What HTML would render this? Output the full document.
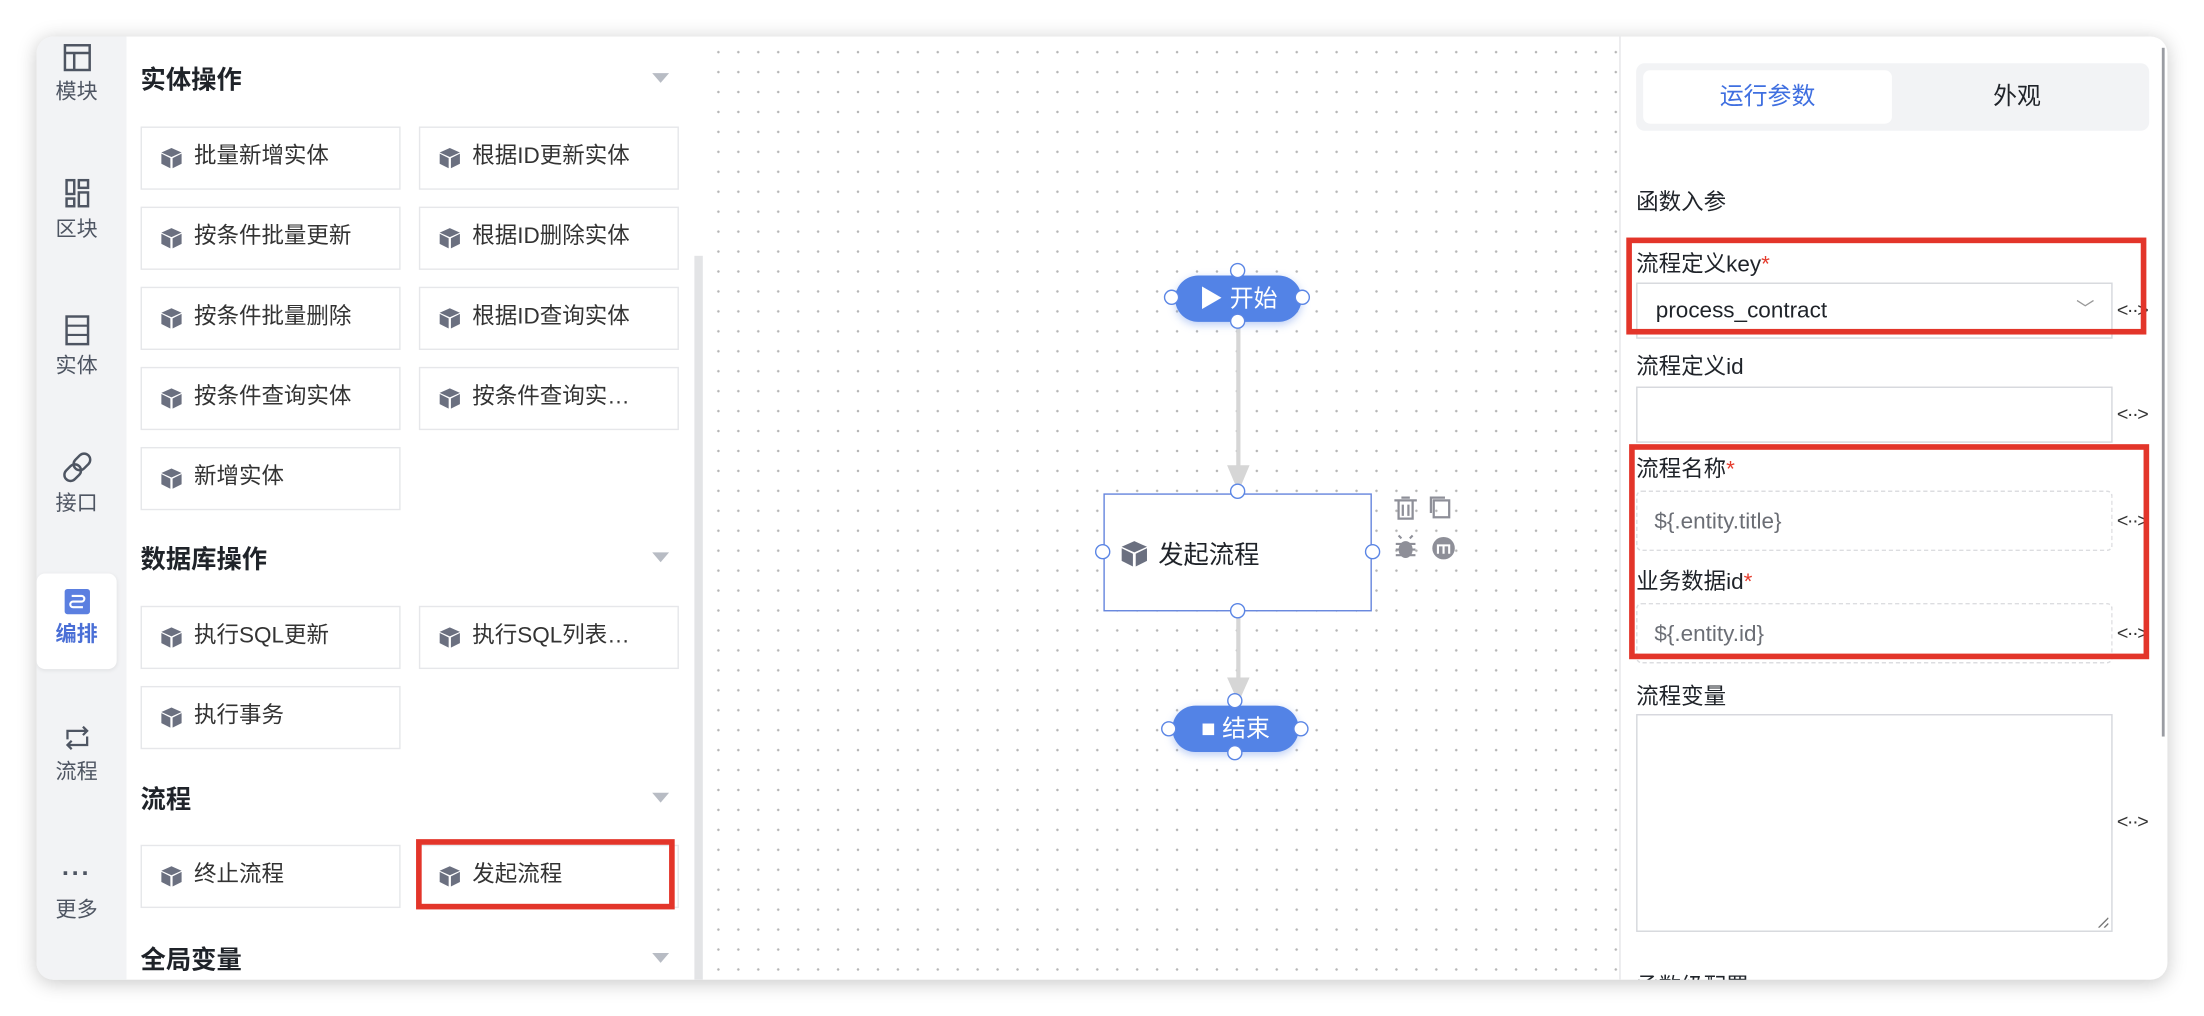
<!DOCTYPE html>
<html><head><meta charset="utf-8">
<style>
html,body{margin:0;padding:0;width:2204px;height:1016px;overflow:hidden;background:#fff}
#w{position:absolute;left:0;top:0;width:1568px;height:723px;transform:scale(1.40561);transform-origin:0 0;font-family:"Liberation Sans","Noto Sans CJK SC",sans-serif;color:#1f2329}
.a{position:absolute}
#card{left:26px;top:26px;width:1516px;height:671px;border-radius:12px;background:#fff;box-shadow:0 2px 14px rgba(0,0,0,.22);overflow:hidden}
.rail{left:0;top:0;width:64px;height:671px;background:#f2f3f5}
.ri{position:absolute;left:0;width:57px;text-align:center;font-size:15px;color:#4e5562}
.hd{position:absolute;left:74px;font-size:18px;font-weight:bold;color:#1f2329}
.tri{position:absolute;left:438px;width:0;height:0;border-left:6px solid transparent;border-right:6px solid transparent;border-top:7px solid #b8bcc4}
.b{position:absolute;width:185px;height:45px;border:1.5px solid #e6e7ea;box-sizing:border-box;font-size:16px;color:#333;line-height:42px;padding-left:37px;white-space:nowrap}
.b svg{position:absolute;left:13px;top:13px}
.lbl{position:absolute;left:1138px;font-size:16px;color:#1f2329}
.lbl i{color:#e53b2c;font-style:normal}
.inp{position:absolute;left:1138px;width:339px;box-sizing:border-box;border:1px solid #d5d7dc;background:#fff}
.ic{position:absolute;left:1480px;font-size:14px;color:#333;letter-spacing:-1px}
.red{position:absolute;border:4px solid #e3352a;box-sizing:border-box}
.port{position:absolute;width:11px;height:11px;border-radius:50%;border:1.5px solid #5b86e5;background:#fff;box-sizing:border-box}
</style></head><body><div id="w">
<div id="card" class="a">
  <div class="a rail"></div>
  <div class="ri" style="top:4px"><svg width="22" height="22" viewBox="0 0 20 20"><rect x="2" y="2" width="16" height="16" fill="none" stroke="#4e5562" stroke-width="1.6"/><line x1="2" y1="7" x2="18" y2="7" stroke="#4e5562" stroke-width="1.6"/><line x1="8" y1="7" x2="8" y2="18" stroke="#4e5562" stroke-width="1.6"/></svg><div style="margin-top:-2px">模块</div></div>
  <div class="ri" style="top:100px"><svg width="22" height="24" viewBox="0 0 20 22"><rect x="3" y="2" width="5" height="9" fill="none" stroke="#4e5562" stroke-width="1.6"/><rect x="11" y="2" width="6" height="5" fill="none" stroke="#4e5562" stroke-width="1.6"/><rect x="11" y="10" width="6" height="9" fill="none" stroke="#4e5562" stroke-width="1.6"/><rect x="3" y="14" width="5" height="5" fill="none" stroke="#4e5562" stroke-width="1.6"/></svg><div style="margin-top:-2px">区块</div></div>
  <div class="ri" style="top:197px"><svg width="22" height="24" viewBox="0 0 20 22"><rect x="3" y="2" width="14" height="18" fill="none" stroke="#4e5562" stroke-width="1.6"/><line x1="3" y1="8" x2="17" y2="8" stroke="#4e5562" stroke-width="1.4"/><line x1="3" y1="14" x2="17" y2="14" stroke="#4e5562" stroke-width="1.4"/></svg><div style="margin-top:-2px">实体</div></div>
  <div class="ri" style="top:295px"><svg width="22" height="24" viewBox="0 0 20 22"><rect x="9" y="1" width="8" height="12" rx="4" transform="rotate(45 13 7)" fill="none" stroke="#4e5562" stroke-width="1.6"/><rect x="3" y="8" width="8" height="12" rx="4" transform="rotate(45 7 14)" fill="none" stroke="#4e5562" stroke-width="1.6"/></svg><div style="margin-top:-2px">接口</div></div>
  <div class="a" style="left:0;top:382px;width:57px;height:68px;background:#fff;border-radius:6px;box-shadow:0 1px 3px rgba(0,0,0,.08)"></div>
  <div class="ri" style="top:392px;color:#4a6fd6;font-weight:bold"><svg width="20" height="20" viewBox="0 0 20 20"><rect x="1" y="1" width="18" height="18" rx="2" fill="#5b7fe0"/><path d="M6 6h7a2 2 0 010 4H7a2 2 0 000 4h7" fill="none" stroke="#fff" stroke-width="1.5"/></svg><div style="margin-top:-2px">编排</div></div>
  <div class="ri" style="top:488px"><svg width="22" height="22" viewBox="0 0 22 22"><path d="M4 12V6h14M15 3l3 3-3 3M18 10v6H4M7 19l-3-3 3-3" fill="none" stroke="#4e5562" stroke-width="1.6"/></svg><div style="margin-top:-2px">流程</div></div>
  <div class="ri" style="top:584px"><div style="font-size:18px;font-weight:bold;letter-spacing:1px;line-height:22px">···</div><div style="margin-top:4px">更多</div></div>

  <div class="a" style="left:468px;top:156px;width:6px;height:515px;background:#e3e4e6"></div>
  <div class="hd" style="top:17px">实体操作</div><div class="tri" style="top:26px"></div>
  <div class="b" style="left:74px;top:64px"><svg width="16" height="17" viewBox="0 0 20 20"><polygon points="10,1 19,5 10,9 1,5" fill="#6b7080"/><polygon points="1,6 9,10 9,19 1,15" fill="#6b7080"/><polygon points="19,6 11,10 11,19 19,15" fill="#6b7080"/></svg>批量新增实体</div>
  <div class="b" style="left:272px;top:64px"><svg width="16" height="17" viewBox="0 0 20 20"><polygon points="10,1 19,5 10,9 1,5" fill="#6b7080"/><polygon points="1,6 9,10 9,19 1,15" fill="#6b7080"/><polygon points="19,6 11,10 11,19 19,15" fill="#6b7080"/></svg>根据ID更新实体</div>
  <div class="b" style="left:74px;top:121px"><svg width="16" height="17" viewBox="0 0 20 20"><polygon points="10,1 19,5 10,9 1,5" fill="#6b7080"/><polygon points="1,6 9,10 9,19 1,15" fill="#6b7080"/><polygon points="19,6 11,10 11,19 19,15" fill="#6b7080"/></svg>按条件批量更新</div>
  <div class="b" style="left:272px;top:121px"><svg width="16" height="17" viewBox="0 0 20 20"><polygon points="10,1 19,5 10,9 1,5" fill="#6b7080"/><polygon points="1,6 9,10 9,19 1,15" fill="#6b7080"/><polygon points="19,6 11,10 11,19 19,15" fill="#6b7080"/></svg>根据ID删除实体</div>
  <div class="b" style="left:74px;top:178px"><svg width="16" height="17" viewBox="0 0 20 20"><polygon points="10,1 19,5 10,9 1,5" fill="#6b7080"/><polygon points="1,6 9,10 9,19 1,15" fill="#6b7080"/><polygon points="19,6 11,10 11,19 19,15" fill="#6b7080"/></svg>按条件批量删除</div>
  <div class="b" style="left:272px;top:178px"><svg width="16" height="17" viewBox="0 0 20 20"><polygon points="10,1 19,5 10,9 1,5" fill="#6b7080"/><polygon points="1,6 9,10 9,19 1,15" fill="#6b7080"/><polygon points="19,6 11,10 11,19 19,15" fill="#6b7080"/></svg>根据ID查询实体</div>
  <div class="b" style="left:74px;top:235px"><svg width="16" height="17" viewBox="0 0 20 20"><polygon points="10,1 19,5 10,9 1,5" fill="#6b7080"/><polygon points="1,6 9,10 9,19 1,15" fill="#6b7080"/><polygon points="19,6 11,10 11,19 19,15" fill="#6b7080"/></svg>按条件查询实体</div>
  <div class="b" style="left:272px;top:235px"><svg width="16" height="17" viewBox="0 0 20 20"><polygon points="10,1 19,5 10,9 1,5" fill="#6b7080"/><polygon points="1,6 9,10 9,19 1,15" fill="#6b7080"/><polygon points="19,6 11,10 11,19 19,15" fill="#6b7080"/></svg>按条件查询实…</div>
  <div class="b" style="left:74px;top:292px"><svg width="16" height="17" viewBox="0 0 20 20"><polygon points="10,1 19,5 10,9 1,5" fill="#6b7080"/><polygon points="1,6 9,10 9,19 1,15" fill="#6b7080"/><polygon points="19,6 11,10 11,19 19,15" fill="#6b7080"/></svg>新增实体</div>
  <div class="hd" style="top:358px">数据库操作</div><div class="tri" style="top:367px"></div>
  <div class="b" style="left:74px;top:405px"><svg width="16" height="17" viewBox="0 0 20 20"><polygon points="10,1 19,5 10,9 1,5" fill="#6b7080"/><polygon points="1,6 9,10 9,19 1,15" fill="#6b7080"/><polygon points="19,6 11,10 11,19 19,15" fill="#6b7080"/></svg>执行SQL更新</div>
  <div class="b" style="left:272px;top:405px"><svg width="16" height="17" viewBox="0 0 20 20"><polygon points="10,1 19,5 10,9 1,5" fill="#6b7080"/><polygon points="1,6 9,10 9,19 1,15" fill="#6b7080"/><polygon points="19,6 11,10 11,19 19,15" fill="#6b7080"/></svg>执行SQL列表…</div>
  <div class="b" style="left:74px;top:462px"><svg width="16" height="17" viewBox="0 0 20 20"><polygon points="10,1 19,5 10,9 1,5" fill="#6b7080"/><polygon points="1,6 9,10 9,19 1,15" fill="#6b7080"/><polygon points="19,6 11,10 11,19 19,15" fill="#6b7080"/></svg>执行事务</div>
  <div class="hd" style="top:529px">流程</div><div class="tri" style="top:538px"></div>
  <div class="b" style="left:74px;top:575px"><svg width="16" height="17" viewBox="0 0 20 20"><polygon points="10,1 19,5 10,9 1,5" fill="#6b7080"/><polygon points="1,6 9,10 9,19 1,15" fill="#6b7080"/><polygon points="19,6 11,10 11,19 19,15" fill="#6b7080"/></svg>终止流程</div>
  <div class="b" style="left:272px;top:575px"><svg width="16" height="17" viewBox="0 0 20 20"><polygon points="10,1 19,5 10,9 1,5" fill="#6b7080"/><polygon points="1,6 9,10 9,19 1,15" fill="#6b7080"/><polygon points="19,6 11,10 11,19 19,15" fill="#6b7080"/></svg>发起流程</div>
  <div class="red" style="left:270px;top:571px;width:184px;height:50px"></div>
  <div class="hd" style="top:643px">全局变量</div><div class="tri" style="top:652px"></div>

  <div class="a" style="left:474px;top:0;width:652px;height:671px;background-image:radial-gradient(circle,#b5b5b5 0.8px,transparent 1px);background-size:14.2px 14.2px;background-position:4px 4px"></div>
  <div class="a" style="left:1126px;top:0;width:1px;height:671px;background:#e5e6e8"></div>
  <svg class="a" style="left:474px;top:0" width="652" height="671">
    <line x1="381" y1="203" x2="381" y2="308" stroke="#d6d6d6" stroke-width="3"/>
    <polygon points="373,305 389,305 381,324" fill="#d6d6d6"/>
    <line x1="381" y1="409" x2="381" y2="460" stroke="#d6d6d6" stroke-width="3"/>
    <polygon points="373,456 389,456 381,474" fill="#d6d6d6"/>
  </svg>
  <div class="a" style="left:810px;top:170px;width:90px;height:33px;border-radius:17px;background:#5383e6;box-shadow:0 2px 6px rgba(83,131,230,.4);color:#fff;font-size:17px;line-height:33px;text-align:center">▶ 开始</div>
  <div class="port" style="left:849px;top:161px"></div><div class="port" style="left:849px;top:197px"></div>
  <div class="port" style="left:802px;top:180px"></div><div class="port" style="left:895px;top:180px"></div>
  <div class="a" style="left:759px;top:325px;width:191px;height:84px;border:1.5px solid #6585dd;box-sizing:border-box;background:#fff"></div>
  <svg class="a" style="left:771px;top:358px" width="20" height="20" viewBox="0 0 20 20"><polygon points="10,1 19,5 10,9 1,5" fill="#6b7080"/><polygon points="1,6 9,10 9,19 1,15" fill="#6b7080"/><polygon points="19,6 11,10 11,19 19,15" fill="#6b7080"/></svg>
  <div class="a" style="left:798px;top:355px;font-size:18px;color:#1f2329">发起流程</div>
  <div class="port" style="left:849px;top:318px"></div><div class="port" style="left:849px;top:403px"></div>
  <div class="port" style="left:753px;top:361px"></div><div class="port" style="left:945px;top:361px"></div>
  <svg class="a" style="left:964px;top:326px" width="50" height="50" viewBox="0 0 50 50">
    <path d="M2 4h16M5 4v13h10V4M8 7v8M12 7v8M7 2h6" fill="none" stroke="#8e8f98" stroke-width="1.6"/>
    <rect x="30" y="4" width="11" height="12" fill="none" stroke="#8e8f98" stroke-width="1.6"/><path d="M28 13V2h10" fill="none" stroke="#8e8f98" stroke-width="1.6"/>
    <ellipse cx="10" cy="39" rx="5" ry="6" fill="#8e8f98"/><path d="M3 35h14M3 39h14M3 43h14M7 31l-2-2M13 31l2-2" stroke="#8e8f98" stroke-width="1.5"/>
    <circle cx="37" cy="38" r="8" fill="#8e8f98"/><path d="M33 42v-6h8v6M37 36v6" fill="none" stroke="#fff" stroke-width="1.5"/>
  </svg>
  <div class="a" style="left:808px;top:476px;width:90px;height:33px;border-radius:17px;background:#5383e6;box-shadow:0 2px 6px rgba(83,131,230,.4);color:#fff;font-size:17px;line-height:33px;text-align:center">■ 结束</div>
  <div class="port" style="left:847px;top:467px"></div><div class="port" style="left:847px;top:504px"></div>
  <div class="port" style="left:800px;top:487px"></div><div class="port" style="left:894px;top:487px"></div>

  <div class="a" style="left:1138px;top:19px;width:365px;height:48px;background:#f2f3f5;border-radius:6px"></div>
  <div class="a" style="left:1143px;top:24px;width:177px;height:38px;background:#fff;border-radius:5px;color:#3f6fe0;font-size:17px;line-height:38px;text-align:center">运行参数</div>
  <div class="a" style="left:1320px;top:24px;width:178px;height:38px;color:#1f2329;font-size:17px;line-height:38px;text-align:center">外观</div>
  <div class="lbl" style="top:104px">函数入参</div>
  <div class="lbl" style="top:148px">流程定义key<i>*</i></div>
  <div class="inp" style="top:175px;height:40px;font-size:16px;line-height:40px;padding-left:13px">process_contract<span style="position:absolute;left:312px;top:-2px;color:#999;font-size:13px">﹀</span></div>
  <div class="ic" style="top:186px">&lt;··&gt;</div>
  <div class="red" style="left:1131px;top:143px;width:370px;height:69px"></div>
  <div class="lbl" style="top:221px">流程定义id</div>
  <div class="inp" style="top:249px;height:40px"></div>
  <div class="ic" style="top:260px">&lt;··&gt;</div>
  <div class="lbl" style="top:294px">流程名称<i>*</i></div>
  <div class="inp" style="top:323px;height:43px;border:1px dashed #dcdde0;border-radius:4px;font-size:16px;color:#6b6e75;line-height:43px;padding-left:12px">${.entity.title}</div>
  <div class="ic" style="top:336px">&lt;··&gt;</div>
  <div class="lbl" style="top:374px">业务数据id<i>*</i></div>
  <div class="inp" style="top:403px;height:43px;border:1px dashed #dcdde0;border-radius:4px;font-size:16px;color:#6b6e75;line-height:43px;padding-left:12px">${.entity.id}</div>
  <div class="ic" style="top:416px">&lt;··&gt;</div>
  <div class="red" style="left:1133px;top:290px;width:370px;height:153px"></div>
  <div class="lbl" style="top:456px">流程变量</div>
  <div class="inp" style="top:482px;height:155px"><svg style="position:absolute;right:2px;bottom:2px" width="8" height="8"><path d="M1 8L8 1M5 8L8 5" stroke="#777"/></svg></div>
  <div class="ic" style="top:550px">&lt;··&gt;</div>
  <div class="lbl" style="top:662px">函数级配置</div>
  <div class="a" style="left:1512px;top:8px;width:2px;height:490px;background:#9a9ca2"></div>
</div>
</div></body></html>
